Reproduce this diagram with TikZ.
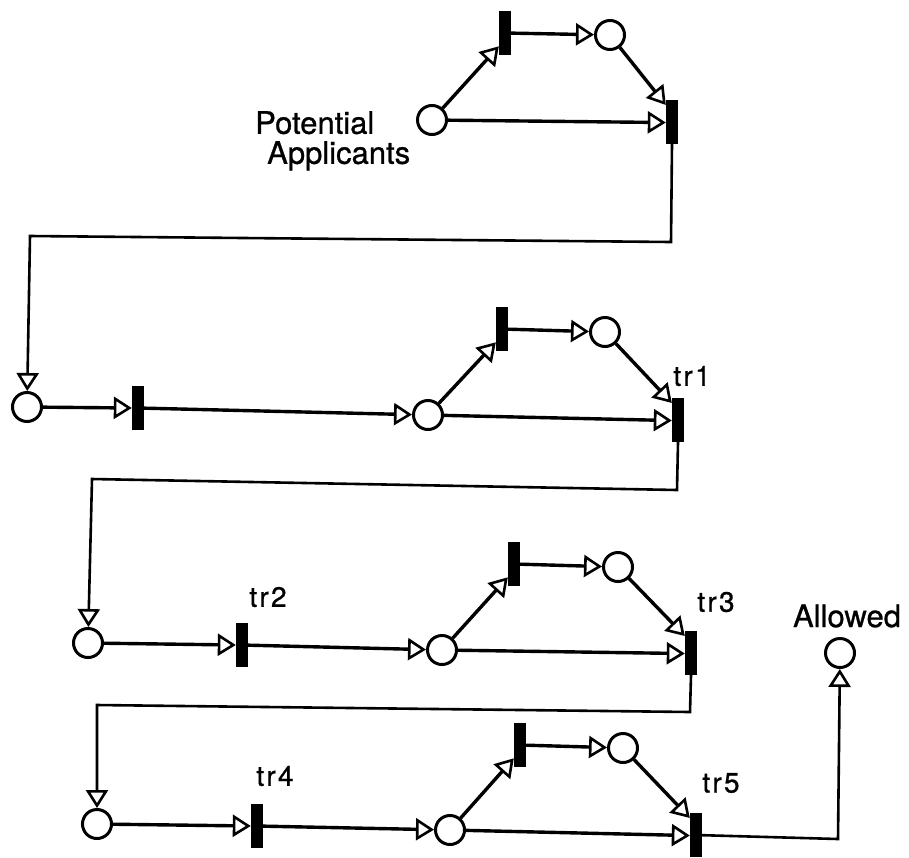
\documentclass[tikz,border=0pt]{standalone}
\usepackage{fontspec}
\setmainfont[FakeBold=0.8]{TeX Gyre Heros}
\newfontfamily\trfont[LetterSpace=8,FakeBold=0.8]{TeX Gyre Heros}
\usetikzlibrary{arrows.meta}
\tikzset{
  opentip/.tip={Triangle[open,length=18pt,width=22pt,line width=2.6pt]}
}
\begin{document}
\begin{tikzpicture}[x=1pt,y=-1pt,
  pn/.style={circle,draw,line width=3pt,minimum size=29pt,inner sep=0pt},
  tb/.style={rectangle,fill=black,minimum width=12pt,minimum height=44pt,inner sep=0pt},
  flow/.style={line width=3.4pt,-opentip},
  routetip/.style={line width=2.6pt,line join=miter,-opentip},
  lbl/.style={font=\fontsize{31}{34}\selectfont,inner sep=0pt},
  trl/.style={font=\trfont\fontsize{28}{32}\selectfont,inner sep=0pt}]
\useasboundingbox (0,0) rectangle (909,857);

% ---- top block ----
\node[pn] (PA) at (432,120) {};
\node[tb] (T1) at (505,33) {};
\node[pn] (P2) at (610,35) {};
\node[tb] (T2) at (672,122) {};
\node[lbl,align=left,anchor=north west,font=\fontsize{31}{30}\selectfont] (lPA) at (255,111) {Potential\\\hspace*{12pt}Applicants};
\draw[flow] (PA) -- (T1.245);
\draw[flow] (T1) -- (P2);
\draw[flow] (P2) -- (T2.110);
\draw[flow] (PA) -- (T2.185);

% ---- row 1 ----
\node[pn] (A1) at (27,407) {};
\node[tb] (B1) at (138,408) {};
\node[pn] (C1) at (428,415) {};
\node[tb] (D1) at (502,329) {};
\node[pn] (E1) at (605,332) {};
\node[tb] (F1) at (678,420) {};
\node[trl] (lF1) at (692,376) {tr1};
\draw[flow] (A1) -- (B1.west);
\draw[flow] (B1) -- (C1);
\draw[flow] (C1) -- (D1.245);
\draw[flow] (D1) -- (E1);
\draw[flow] (E1) -- (F1.110);
\draw[flow] (C1) -- (F1.185);

% ---- row 2 ----
\node[pn] (A2) at (88,643) {};
\node[tb] (B2) at (242,645) {};
\node[pn] (C2) at (442,650) {};
\node[tb] (D2) at (514,564) {};
\node[pn] (E2) at (618,567) {};
\node[tb] (F2) at (691,653) {};
\node[trl] (lB2) at (268,597) {tr2};
\node[trl] (lF2) at (716,602) {tr3};
\draw[flow] (A2) -- (B2.west);
\draw[flow] (B2) -- (C2);
\draw[flow] (C2) -- (D2.245);
\draw[flow] (D2) -- (E2);
\draw[flow] (E2) -- (F2.110);
\draw[flow] (C2) -- (F2.185);

% ---- row 3 ----
\node[pn] (A3) at (97,824) {};
\node[tb] (B3) at (257,826) {};
\node[pn] (C3) at (450,830) {};
\node[tb] (D3) at (520,745) {};
\node[pn] (E3) at (623,748) {};
\node[tb] (F3) at (696,835) {};
\node[trl] (lB3) at (275,776) {tr4};
\node[trl] (lF3) at (721,783) {tr5};
\draw[flow] (A3) -- (B3.west);
\draw[flow] (B3) -- (C3);
\draw[flow] (C3) -- (D3.245);
\draw[flow] (D3) -- (E3);
\draw[flow] (E3) -- (F3.110);
\draw[flow] (C3) -- (F3.185);

% ---- Allowed ----
\node[pn] (G) at (840,653) {};
\node[lbl] (lG) at (847,616) {Allowed};

% ---- routing ----
\coordinate (r1a) at (671,242);
\coordinate (r1b) at (30,236);
\draw[routetip] (T2.south) -- (r1a) -- (r1b) -- (A1);
\coordinate (r2a) at (677,490);
\coordinate (r2b) at (92,479);
\draw[routetip] (F1.south) -- (r2a) -- (r2b) -- (A2);
\coordinate (r3a) at (690,712);
\coordinate (r3b) at (97,705);
\draw[routetip] (F2.south) -- (r3a) -- (r3b) -- (A3);
\coordinate (r4a) at (838,839);
\draw[routetip] (F3) -- (r4a) -- (G);
\end{tikzpicture}
\end{document}
